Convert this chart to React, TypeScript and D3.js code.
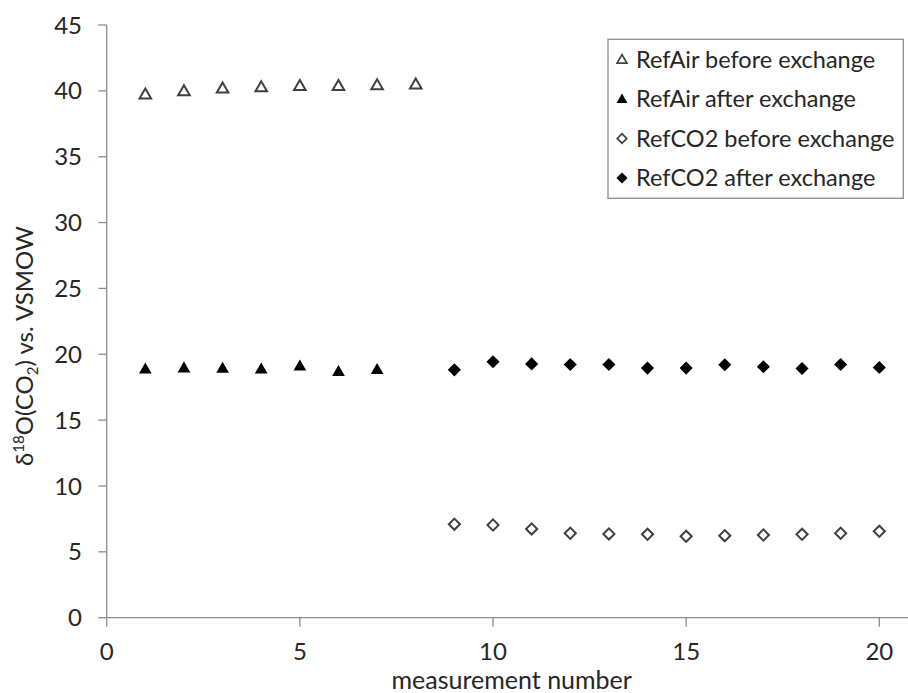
import React from "react";
import * as d3 from "d3";

const refAirBeforeX = [1, 2, 3, 4, 5, 6, 7, 8];
const refAirBeforeY = [39.75, 40.0, 40.2, 40.3, 40.4, 40.4, 40.45, 40.5];
const refAirAfterX = [1, 2, 3, 4, 5, 6, 7];
const refAirAfterY = [18.9, 18.98, 18.95, 18.9, 19.12, 18.7, 18.86];
const refCO2BeforeX = [9, 10, 11, 12, 13, 14, 15, 16, 17, 18, 19, 20];
const refCO2BeforeY = [7.1, 7.04, 6.74, 6.41, 6.36, 6.33, 6.18, 6.23, 6.28, 6.33, 6.41, 6.56];
const refCO2AfterX = [9, 10, 11, 12, 13, 14, 15, 16, 17, 18, 19, 20];
const refCO2AfterY = [18.82, 19.43, 19.27, 19.22, 19.22, 18.95, 18.95, 19.2, 19.05, 18.92, 19.22, 19.0];

const xTicks = [0, 5, 10, 15, 20];
const yTicks = [0, 5, 10, 15, 20, 25, 30, 35, 40, 45];
const legendLabels = [
  "RefAir before exchange",
  "RefAir after exchange",
  "RefCO2 before exchange",
  "RefCO2 after exchange",
];

const FONT = "Lato, 'Open Sans', sans-serif";
const TEXT = "#262626";
const AXIS = "#8c8c8c";

const triPath = d3.symbol().type(d3.symbolTriangle).size(70)()!;
const triPathOpen = d3.symbol().type(d3.symbolTriangle).size(58)()!;
const diaPath = d3.symbol().type(d3.symbolSquare).size(86)()!;
const diaPathOpen = d3.symbol().type(d3.symbolSquare).size(62)()!;

type Kind = "triOpen" | "triFill" | "diaOpen" | "diaFill";

function Marker({ kind, x, y }: { kind: Kind; x: number; y: number }) {
  if (kind === "triOpen")
    return <path d={triPathOpen} transform={`translate(${x},${y + 1})`} fill="#fff" stroke="#404040" strokeWidth={2} />;
  if (kind === "triFill")
    return <path d={triPath} transform={`translate(${x},${y + 1})`} fill="#000" />;
  if (kind === "diaOpen")
    return <path d={diaPathOpen} transform={`translate(${x},${y}) rotate(45)`} fill="#fff" stroke="#404040" strokeWidth={2} />;
  return <path d={diaPath} transform={`translate(${x},${y}) rotate(45)`} fill="#000" />;
}

export default function App() {
  const W = 908;
  const H = 693;
  const x = d3.scaleLinear().domain([0, 20]).range([106.7, 879.3]);
  const y = d3.scaleLinear().domain([0, 45]).range([617.7, 25]);

  const series: { xs: number[]; ys: number[]; kind: Kind }[] = [
    { xs: refAirBeforeX, ys: refAirBeforeY, kind: "triOpen" },
    { xs: refAirAfterX, ys: refAirAfterY, kind: "triFill" },
    { xs: refCO2BeforeX, ys: refCO2BeforeY, kind: "diaOpen" },
    { xs: refCO2AfterX, ys: refCO2AfterY, kind: "diaFill" },
  ];
  const kinds: Kind[] = ["triOpen", "triFill", "diaOpen", "diaFill"];

  const legLeft = 608;
  const legTop = 39.3;
  const legRight = 903.3;
  const legBottom = 198.3;
  const rowY = (i: number) => 59.5 + i * 39.5;

  return (
    <svg
      width={W}
      height={H}
      style={{ position: "absolute", left: 0, top: 0, background: "#fff" }}
      fontFamily={FONT}
    >
      <rect width={W} height={H} fill="#fff" />
      {/* axes */}
      <line x1={x(0)} x2={x(0)} y1={y(45)} y2={y(0)} stroke={AXIS} strokeWidth={1.3} />
      <line x1={x(0)} x2={908} y1={y(0)} y2={y(0)} stroke={AXIS} strokeWidth={1.3} />
      {yTicks.map((t) => (
        <g key={"yt" + t}>
          <line x1={98.3} x2={x(0)} y1={y(t)} y2={y(t)} stroke={AXIS} strokeWidth={1.3} />
          <text x={82} y={y(t)} dy="0.36em" textAnchor="end" fontSize={24} fill={TEXT}>
            {t}
          </text>
        </g>
      ))}
      {xTicks.map((t) => (
        <g key={"xt" + t}>
          <line x1={x(t)} x2={x(t)} y1={y(0)} y2={626.7} stroke={AXIS} strokeWidth={1.3} />
          <text x={x(t)} y={660} textAnchor="middle" fontSize={24} fill={TEXT}>
            {t}
          </text>
        </g>
      ))}
      <text x={511.7} y={689} textAnchor="middle" fontSize={25} fill={TEXT}>
        measurement number
      </text>
      <text
        transform={`translate(33,346) rotate(-90)`}
        textAnchor="middle"
        fontSize={24}
        fill={TEXT}
      >
        δ<tspan dy={-9} fontSize={15}>18</tspan>
        <tspan dy={9}>O(CO</tspan>
        <tspan dy={5} fontSize={15}>2</tspan>
        <tspan dy={-5}>) vs. VSMOW</tspan>
      </text>

      {/* data */}
      {series.map((s, si) =>
        s.xs.map((xv, i) => <Marker key={si + "-" + i} kind={s.kind} x={x(xv)} y={y(s.ys[i])} />)
      )}

      {/* legend */}
      <rect
        x={legLeft}
        y={legTop}
        width={legRight - legLeft}
        height={legBottom - legTop}
        fill="#fff"
        stroke={AXIS}
        strokeWidth={1.3}
      />
      {legendLabels.map((lab, i) => (
        <g key={"lg" + i}>
          <g transform={`translate(${legLeft + 14},${rowY(i)}) scale(0.85)`}>
            <Marker kind={kinds[i]} x={0} y={0} />
          </g>
          <text x={legLeft + 28} y={rowY(i) + 8.3} fontSize={23.5} fill={TEXT}>
            {lab}
          </text>
        </g>
      ))}
    </svg>
  );
}
